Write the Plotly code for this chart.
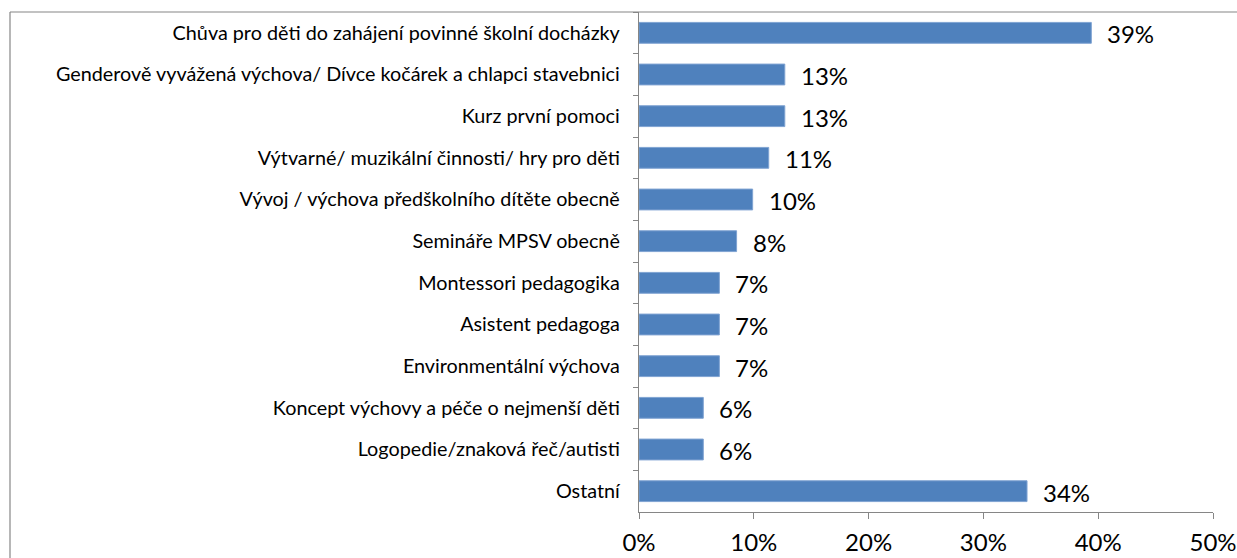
import plotly.graph_objects as go

categories = [
    "Chůva pro děti do zahájení povinné školní docházky",
    "Genderově vyvážená výchova/ Dívce kočárek a chlapci stavebnici",
    "Kurz první pomoci",
    "Výtvarné/ muzikální činnosti/ hry pro děti",
    "Vývoj / výchova předškolního dítěte obecně",
    "Semináře MPSV obecně",
    "Montessori pedagogika",
    "Asistent pedagoga",
    "Environmentální výchova",
    "Koncept výchovy a péče o nejmenší děti",
    "Logopedie/znaková řeč/autisti",
    "Ostatní",
]
values = [39.4, 12.7, 12.7, 11.3, 9.9, 8.5, 7.0, 7.0, 7.0, 5.6, 5.6, 33.8]
labels = ["39%", "13%", "13%", "11%", "10%", "8%", "7%", "7%", "7%", "6%", "6%", "34%"]
x_ticks = [0, 10, 20, 30, 40, 50]
x_ticklabels = ["0%", "10%", "20%", "30%", "40%", "50%"]

FONT = "Lato"
AXIS = "#868686"

fig = go.Figure()
fig.add_trace(go.Bar(
    x=values, y=categories, orientation="h",
    marker=dict(color="#4F81BD", line=dict(color="#7FA3D2", width=1)),
    hoverinfo="skip",
))
for c, v, t in zip(categories, values, labels):
    fig.add_annotation(x=v, y=c, text=t, showarrow=False, xanchor="left",
                       xshift=14, yshift=-1,
                       font=dict(family=FONT, size=24, color="#000000"))

L, R = 639, 1213
T, B = 12, 512
W, H = 1237, 558
pw = R - L
fig.add_shape(type="line", xref="paper", yref="paper",
              x0=(10 - L) / pw, x1=(W + 5 - L) / pw, y0=1, y1=1,
              line=dict(color=AXIS, width=1.2))
fig.add_shape(type="line", xref="paper", yref="paper",
              x0=(10 - L) / pw, x1=(10 - L) / pw, y0=1, y1=-0.2,
              line=dict(color=AXIS, width=1.2))

fig.update_layout(
    width=W, height=H,
    margin=dict(l=L, r=W - R, t=T, b=H - B, autoexpand=False),
    paper_bgcolor="white", plot_bgcolor="white",
    bargap=0.5, showlegend=False,
    font=dict(family=FONT, color="#000000"),
    xaxis=dict(range=[0, 50], tickvals=x_ticks, ticktext=x_ticklabels,
               showgrid=False, zeroline=False, showline=True, linecolor=AXIS,
               linewidth=1.2, ticks="outside", ticklen=6, tickcolor=AXIS,
               tickfont=dict(family=FONT, size=24), ticklabelstandoff=3,
               ticklabeloverflow="allow", automargin=False,
               fixedrange=True),
    yaxis=dict(categoryorder="array", categoryarray=categories,
               autorange="reversed", showgrid=False, zeroline=False,
               showline=True, linecolor=AXIS, linewidth=1.2,
               ticks="outside", ticklen=5, tickcolor=AXIS, tickson="boundaries",
               tickfont=dict(family=FONT, size=19.8), ticklabelstandoff=14,
               ticklabeloverflow="allow", automargin=False,
               fixedrange=True),
)
fig.write_html("out.html", config={"displayModeBar": False, "staticPlot": True},
               post_script="document.body.style.margin='0';document.body.style.overflow='hidden';")
